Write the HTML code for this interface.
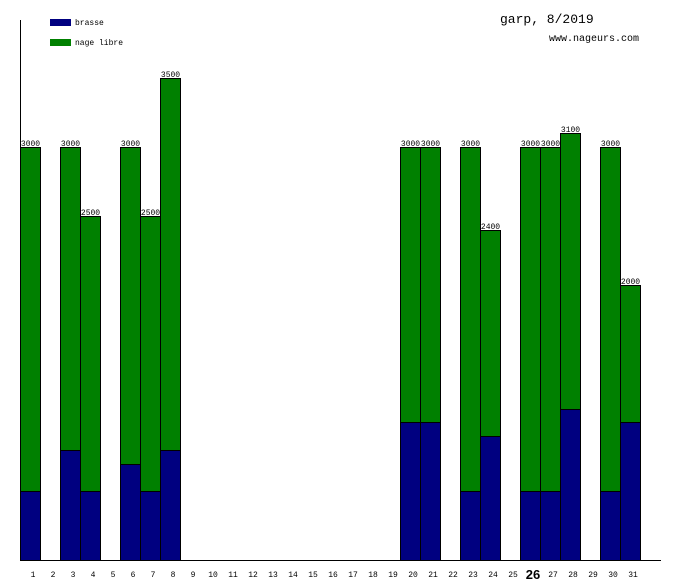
<!DOCTYPE html>
<html><head><meta charset="utf-8"><style>
html,body{margin:0;padding:0;background:#fff;}
svg{display:block;}
text{font-family:"Liberation Mono","DejaVu Sans Mono",monospace;fill:#000;}
.v{font-size:8px;}
.d{font-size:8px;}
</style></head><body>
<svg width="680" height="580" viewBox="0 0 680 580" xmlns="http://www.w3.org/2000/svg">
<rect width="680" height="580" fill="#fff"/>
<line x1="20.5" y1="20" x2="20.5" y2="560" stroke="#000"/>
<rect x="50" y="19" width="21" height="7" fill="#000080"/>
<rect x="50" y="39" width="21" height="7" fill="#008000"/>
<text x="75" y="25" class="v">brasse</text>
<text x="75" y="45" class="v">nage libre</text>
<text x="500" y="23" style="font-size:13px">garp, 8/2019</text>
<text x="549" y="41" style="font-size:10px">www.nageurs.com</text>
<g id="bars"></g>
<line x1="20" y1="560.5" x2="661" y2="560.5" stroke="#000"/>
<g id="lab"></g>
</svg>
<script>
var data={1:[3000,500],3:[3000,800],4:[2500,500],6:[3000,700],7:[2500,500],8:[3500,800],20:[3000,1000],21:[3000,1000],23:[3000,500],24:[2400,900],26:[3000,500],27:[3000,500],28:[3100,1100],30:[3000,500],31:[2000,1000]};
var k=413/3000,ns="http://www.w3.org/2000/svg",g=document.getElementById('bars'),L=document.getElementById('lab');
function el(t,a,p,txt){var e=document.createElementNS(ns,t);for(var i in a)e.setAttribute(i,a[i]);if(txt)e.textContent=txt;p.appendChild(e);return e;}
for(var d in data){var x=20+(d-1)*20,t=data[d][0],b=data[d][1];
var yt=Math.round(560-t*k),yb=Math.round(560-b*k);
el('rect',{x:x+0.5,y:yt+0.5,width:20,height:yb-yt,fill:'#008000',stroke:'#000'},g);
el('rect',{x:x+0.5,y:yb+0.5,width:20,height:560-yb,fill:'#000080',stroke:'#000'},g);
el('text',{x:x+10.5,y:yt-1,'text-anchor':'middle','class':'v'},g,String(t));}
for(var n=1;n<=31;n++){var a={x:20*n+13,y:577,'text-anchor':'middle','class':'d'};
if(n==26){a.style='font-size:13px;font-weight:bold;font-family:"Liberation Sans",sans-serif';a.y=579;}
el('text',a,L,String(n));}
</script>
</body></html>
